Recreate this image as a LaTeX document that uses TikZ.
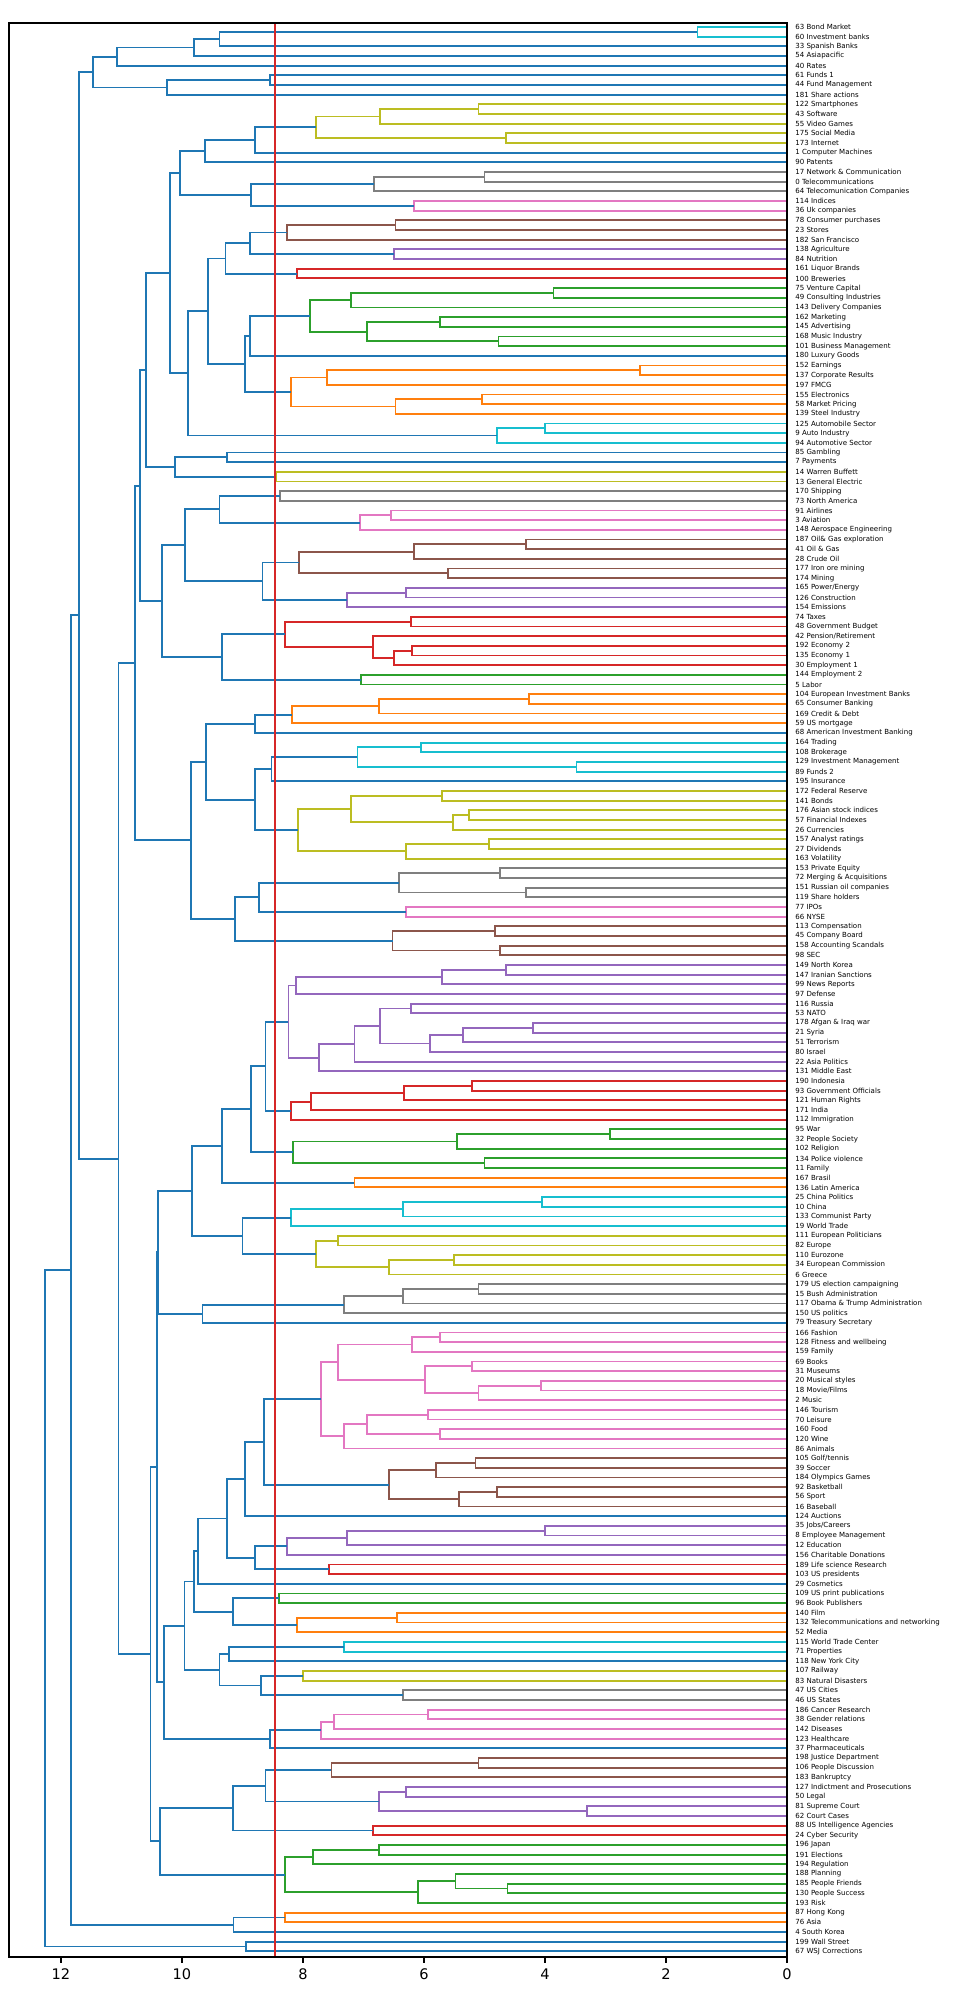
\documentclass[tikz,border=0pt]{standalone}
\usepackage{fontspec}
\setmainfont{DejaVu Sans}
\usetikzlibrary{calc}
\definecolor{C0}{HTML}{1F77B4}
\definecolor{C1}{HTML}{FF7F0E}
\definecolor{C2}{HTML}{2CA02C}
\definecolor{C3}{HTML}{D62728}
\definecolor{C4}{HTML}{9467BD}
\definecolor{C5}{HTML}{8C564B}
\definecolor{C6}{HTML}{E377C2}
\definecolor{C7}{HTML}{7F7F7F}
\definecolor{C8}{HTML}{BCBD22}
\definecolor{C9}{HTML}{17BECF}
\newcommand\mg[5]{%
  \coordinate (tmp) at ($(#2)!0.5!(#3)$);
  \coordinate (hx) at ({787-60.5*#4},0);
  \coordinate (#1) at (hx |- tmp);
  \draw[link,#5] (#2) -| (#1) |- (#3);
}
\tikzset{link/.style={line width=1.05pt},
  lab/.style={anchor=west,inner sep=0pt,font=\fontsize{4}{4.5}\selectfont},
  tick/.style={anchor=north,inner sep=0pt,font=\fontsize{8.3}{9}\selectfont}}
\begin{document}
\begin{tikzpicture}[x=0.02cm,y=-0.02cm]
\useasboundingbox (0,0) rectangle (973,2000);
\fill[white] (0,0) rectangle (973,2000);
\foreach \i/\t in {0/63 Bond Market,1/60 Investment banks,2/33 Spanish Banks,3/54 Asiapacific,4/40 Rates,5/61 Funds 1,6/44 Fund Management,7/181 Share actions,8/122 Smartphones,9/43 Software,10/55 Video Games,11/175 Social Media,12/173 Internet,13/1 Computer Machines,14/90 Patents,15/17 Network \& Communication,16/0 Telecommunications,17/64 Telecomunication Companies,18/114 Indices,19/36 Uk companies,20/78 Consumer purchases,21/23 Stores,22/182 San Francisco,23/138 Agriculture,24/84 Nutrition,25/161 Liquor Brands,26/100 Breweries,27/75 Venture Capital,28/49 Consulting Industries,29/143 Delivery Companies,30/162 Marketing,31/145 Advertising,32/168 Music Industry,33/101 Business Management,34/180 Luxury Goods,35/152 Earnings,36/137 Corporate Results,37/197 FMCG,38/155 Electronics,39/58 Market Pricing,40/139 Steel Industry,41/125 Automobile Sector,42/9 Auto Industry,43/94 Automotive Sector,44/85 Gambling,45/7 Payments,46/14 Warren Buffett,47/13 General Electric,48/170 Shipping,49/73 North America,50/91 Airlines,51/3 Aviation,52/148 Aerospace Engineering,53/187 Oil\& Gas exploration,54/41 Oil \& Gas,55/28 Crude Oil,56/177 Iron ore mining,57/174 Mining,58/{165 Power/Energy},59/126 Construction,60/154 Emissions,61/74 Taxes,62/48 Government Budget,63/{42 Pension/Retirement},64/192 Economy 2,65/135 Economy 1,66/30 Employment 1,67/144 Employment 2,68/5 Labor,69/104 European Investment Banks,70/65 Consumer Banking,71/169 Credit \& Debt,72/59 US mortgage,73/68 American Investment Banking,74/164 Trading,75/108 Brokerage,76/129 Investment Management,77/89 Funds 2,78/195 Insurance,79/172 Federal Reserve,80/141 Bonds,81/176 Asian stock indices,82/57 Financial Indexes,83/26 Currencies,84/157 Analyst ratings,85/27 Dividends,86/163 Volatility,87/153 Private Equity,88/72 Merging \& Acquisitions,89/151 Russian oil companies,90/119 Share holders,91/77 IPOs,92/66 NYSE,93/113 Compensation,94/45 Company Board,95/158 Accounting Scandals,96/98 SEC,97/149 North Korea,98/147 Iranian Sanctions,99/99 News Reports,100/97 Defense,101/116 Russia,102/53 NATO,103/178 Afgan \& Iraq war,104/21 Syria,105/51 Terrorism,106/80 Israel,107/22 Asia Politics,108/131 Middle East,109/190 Indonesia,110/93 Government Officials,111/121 Human Rights,112/171 India,113/112 Immigration,114/95 War,115/32 People Society,116/102 Religion,117/134 Police violence,118/11 Family,119/167 Brasil,120/136 Latin America,121/25 China Politics,122/10 China,123/133 Communist Party,124/19 World Trade,125/111 European Politicians,126/82 Europe,127/110 Eurozone,128/34 European Commission,129/6 Greece,130/179 US election campaigning,131/15 Bush Administration,132/117 Obama \& Trump Administration,133/150 US politics,134/79 Treasury Secretary,135/166 Fashion,136/128 Fitness and wellbeing,137/159 Family,138/69 Books,139/31 Museums,140/20 Musical styles,141/{18 Movie/Films},142/2 Music,143/146 Tourism,144/70 Leisure,145/160 Food,146/120 Wine,147/86 Animals,148/{105 Golf/tennis},149/39 Soccer,150/184 Olympics Games,151/92 Basketball,152/56 Sport,153/16 Baseball,154/124 Auctions,155/{35 Jobs/Careers},156/8 Employee Management,157/12 Education,158/156 Charitable Donations,159/189 Life science Research,160/103 US presidents,161/29 Cosmetics,162/109 US print publications,163/96 Book Publishers,164/140 Film,165/132 Telecommunications and networking,166/52 Media,167/115 World Trade Center,168/71 Properties,169/118 New York City,170/107 Railway,171/83 Natural Disasters,172/47 US Cities,173/46 US States,174/186 Cancer Research,175/38 Gender relations,176/142 Diseases,177/123 Healthcare,178/37 Pharmaceuticals,179/198 Justice Department,180/106 People Discussion,181/183 Bankruptcy,182/127 Indictment and Prosecutions,183/50 Legal,184/81 Supreme Court,185/62 Court Cases,186/88 US Intelligence Agencies,187/24 Cyber Security,188/196 Japan,189/191 Elections,190/194 Regulation,191/188 Planning,192/185 People Friends,193/130 People Success,194/193 Risk,195/87 Hong Kong,196/76 Asia,197/4 South Korea,198/199 Wall Street,199/67 WSJ Corrections}{
  \coordinate (L\i) at (787,{27+9.67*\i});
  \node[lab] (T\i) at (795,{27+9.67*\i}) {\t};
}
% ---- top block
\mg{a1}{L0}{L1}{1.48}{C9}
\mg{a2}{a1}{L2}{9.38}{C0}
\mg{a3}{a2}{L3}{9.8}{C0}
\mg{a4}{a3}{L4}{11.07}{C0}
\mg{a5}{L5}{L6}{8.54}{C0}
\mg{a6}{a5}{L7}{10.25}{C0}
\mg{a7}{a4}{a6}{11.47}{C0}
% ---- B
\mg{b1}{L8}{L9}{5.1}{C8}
\mg{b2}{b1}{L10}{6.73}{C8}
\mg{b3}{L11}{L12}{4.64}{C8}
\mg{b4}{b2}{b3}{7.78}{C8}
\mg{b5}{b4}{L13}{8.8}{C0}
\mg{b6}{b5}{L14}{9.62}{C0}
\mg{b7}{L15}{L16}{5.0}{C7}
\mg{b8}{b7}{L17}{6.83}{C7}
\mg{b9}{L18}{L19}{6.16}{C6}
\mg{b10}{b8}{b9}{8.86}{C0}
\mg{b11}{b6}{b10}{10.04}{C0}
% ---- C
\mg{c1}{L20}{L21}{6.47}{C5}
\mg{c2}{c1}{L22}{8.27}{C5}
\mg{c3}{L23}{L24}{6.5}{C4}
\mg{c4}{c2}{c3}{8.88}{C0}
\mg{c5}{L25}{L26}{8.1}{C3}
\mg{c6}{c4}{c5}{9.28}{C0}
% ---- D
\mg{d1}{L27}{L28}{3.86}{C2}
\mg{d2}{d1}{L29}{7.2}{C2}
\mg{d3}{L30}{L31}{5.74}{C2}
\mg{d4}{L32}{L33}{4.77}{C2}
\mg{d5}{d3}{d4}{6.94}{C2}
\mg{d6}{d2}{d5}{7.89}{C2}
\mg{d7}{d6}{L34}{8.88}{C0}
\mg{d8}{L35}{L36}{2.43}{C1}
\mg{d9}{d8}{L37}{7.6}{C1}
\mg{d10}{L38}{L39}{5.04}{C1}
\mg{d11}{d10}{L40}{6.47}{C1}
\mg{d12}{d9}{d11}{8.2}{C1}
\mg{d13}{d7}{d12}{8.96}{C0}
\mg{cd}{c6}{d13}{9.57}{C0}
\mg{d14}{L41}{L42}{4.0}{C9}
\mg{d15}{d14}{L43}{4.8}{C9}
\mg{d16}{cd}{d15}{9.9}{C0}
% ---- F
\mg{f1}{L44}{L45}{9.26}{C0}
\mg{f2}{L46}{L47}{8.45}{C8}
\mg{f15}{f1}{f2}{10.12}{C0}
\mg{f3}{L48}{L49}{8.38}{C7}
\mg{f4}{L50}{L51}{6.54}{C6}
\mg{f5}{f4}{L52}{7.06}{C6}
\mg{f6}{f3}{f5}{9.38}{C0}
\mg{f7}{L53}{L54}{4.32}{C5}
\mg{f8}{f7}{L55}{6.16}{C5}
\mg{f9}{L56}{L57}{5.6}{C5}
\mg{f10}{f8}{f9}{8.06}{C5}
\mg{f11}{L58}{L59}{6.3}{C4}
\mg{f12}{f11}{L60}{7.27}{C4}
\mg{f13}{f10}{f12}{8.67}{C0}
\mg{f14}{f6}{f13}{9.95}{C0}
% ---- H
\mg{h1}{L61}{L62}{6.22}{C3}
\mg{h2}{L64}{L65}{6.2}{C3}
\mg{h3}{h2}{L66}{6.5}{C3}
\mg{h4}{L63}{h3}{6.85}{C3}
\mg{h5}{h1}{h4}{8.3}{C3}
\mg{h6}{L67}{L68}{7.04}{C2}
\mg{h7}{h5}{h6}{9.34}{C0}
\mg{h8}{f14}{h7}{10.33}{C0}
% ---- I finance
\mg{i1}{L69}{L70}{4.26}{C1}
\mg{i2}{i1}{L71}{6.75}{C1}
\mg{i3}{i2}{L72}{8.18}{C1}
\mg{i4}{i3}{L73}{8.8}{C0}
\mg{i5}{L74}{L75}{6.05}{C9}
\mg{i6}{L76}{L77}{3.48}{C9}
\mg{i7}{i5}{i6}{7.1}{C9}
\mg{i8}{i7}{L78}{8.52}{C0}
\mg{i9}{L79}{L80}{5.7}{C8}
\mg{i10}{L81}{L82}{5.25}{C8}
\mg{i11}{i10}{L83}{5.52}{C8}
\mg{i12}{i9}{i11}{7.2}{C8}
\mg{i13}{L84}{L85}{4.93}{C8}
\mg{i14}{i13}{L86}{6.3}{C8}
\mg{i15}{i12}{i14}{8.08}{C8}
\mg{i16}{i8}{i15}{8.8}{C0}
\mg{i17}{i4}{i16}{9.6}{C0}
\mg{i18}{L87}{L88}{4.75}{C7}
\mg{i19}{L89}{L90}{4.32}{C7}
\mg{i20}{i18}{i19}{6.41}{C7}
\mg{i21}{L91}{L92}{6.3}{C6}
\mg{i22}{i20}{i21}{8.73}{C0}
\mg{i23}{L93}{L94}{4.83}{C5}
\mg{i24}{L95}{L96}{4.75}{C5}
\mg{i25}{i23}{i24}{6.52}{C5}
\mg{i26}{i22}{i25}{9.13}{C0}
\mg{i27}{i17}{i26}{9.85}{C0}
% ---- J politics
\mg{j1}{L97}{L98}{4.64}{C4}
\mg{j2}{j1}{L99}{5.7}{C4}
\mg{j3}{j2}{L100}{8.12}{C4}
\mg{j4}{L101}{L102}{6.22}{C4}
\mg{j5}{L103}{L104}{4.2}{C4}
\mg{j6}{j5}{L105}{5.36}{C4}
\mg{j7}{j6}{L106}{5.9}{C4}
\mg{j8}{j4}{j7}{6.73}{C4}
\mg{j9}{j8}{L107}{7.15}{C4}
\mg{j10}{j9}{L108}{7.74}{C4}
\mg{j11}{j3}{j10}{8.24}{C4}
\mg{j12}{L109}{L110}{5.2}{C3}
\mg{j13}{j12}{L111}{6.33}{C3}
\mg{j14}{j13}{L112}{7.87}{C3}
\mg{j15}{j14}{L113}{8.2}{C3}
\mg{j16}{j11}{j15}{8.62}{C0}
\mg{j17}{L114}{L115}{2.93}{C2}
\mg{j18}{j17}{L116}{5.46}{C2}
\mg{j19}{L117}{L118}{5.0}{C2}
\mg{j20}{j18}{j19}{8.16}{C2}
\mg{j21}{j16}{j20}{8.86}{C0}
\mg{j22}{L119}{L120}{7.15}{C1}
\mg{j23}{j21}{j22}{9.34}{C0}
\mg{j24}{L121}{L122}{4.05}{C9}
\mg{j25}{j24}{L123}{6.35}{C9}
\mg{j26}{j25}{L124}{8.2}{C9}
\mg{j27}{L125}{L126}{7.42}{C8}
\mg{j28}{L127}{L128}{5.5}{C8}
\mg{j29}{j28}{L129}{6.58}{C8}
\mg{j30}{j27}{j29}{7.78}{C8}
\mg{j31}{j26}{j30}{9.0}{C0}
\mg{j32}{j23}{j31}{9.83}{C0}
\mg{j33}{L130}{L131}{5.1}{C7}
\mg{j34}{j33}{L132}{6.35}{C7}
\mg{j35}{j34}{L133}{7.32}{C7}
\mg{j36}{j35}{L134}{9.66}{C0}
\mg{j37}{j32}{j36}{10.4}{C0}
% ---- K culture
\mg{k1}{L135}{L136}{5.74}{C6}
\mg{k2}{k1}{L137}{6.2}{C6}
\mg{k3}{L138}{L139}{5.2}{C6}
\mg{k4}{L140}{L141}{4.07}{C6}
\mg{k5}{k4}{L142}{5.1}{C6}
\mg{k6}{k3}{k5}{5.98}{C6}
\mg{k7}{k2}{k6}{7.42}{C6}
\mg{k8}{L143}{L144}{5.93}{C6}
\mg{k9}{L145}{L146}{5.74}{C6}
\mg{k10}{k8}{k9}{6.94}{C6}
\mg{k11}{k10}{L147}{7.32}{C6}
\mg{k12}{k7}{k11}{7.7}{C6}
\mg{k13}{L148}{L149}{5.15}{C5}
\mg{k14}{k13}{L150}{5.8}{C5}
\mg{k15}{L151}{L152}{4.79}{C5}
\mg{k16}{k15}{L153}{5.42}{C5}
\mg{k17}{k14}{k16}{6.58}{C5}
\mg{k18}{k12}{k17}{8.65}{C0}
\mg{k19}{k18}{L154}{8.96}{C0}
\mg{k20}{L155}{L156}{4.0}{C4}
\mg{k21}{k20}{L157}{7.27}{C4}
\mg{k22}{k21}{L158}{8.27}{C4}
\mg{k23}{L159}{L160}{7.57}{C3}
\mg{k24}{k22}{k23}{8.8}{C0}
\mg{k25}{k19}{k24}{9.26}{C0}
\mg{k26}{k25}{L161}{9.74}{C0}
\mg{k27}{L162}{L163}{8.4}{C2}
\mg{k28}{L164}{L165}{6.45}{C1}
\mg{k29}{k28}{L166}{8.1}{C1}
\mg{k30}{k27}{k29}{9.16}{C0}
\mg{k31}{k26}{k30}{9.8}{C0}
\mg{k32}{L167}{L168}{7.32}{C9}
\mg{k33}{k32}{L169}{9.22}{C0}
\mg{k34}{L170}{L171}{8.0}{C8}
\mg{k35}{L172}{L173}{6.35}{C7}
\mg{k36}{k34}{k35}{8.7}{C0}
\mg{k37}{k33}{k36}{9.38}{C0}
\mg{k38}{k31}{k37}{9.96}{C0}
\mg{k39}{L174}{L175}{5.93}{C6}
\mg{k40}{k39}{L176}{7.49}{C6}
\mg{k41}{k40}{L177}{7.7}{C6}
\mg{k42}{k41}{L178}{8.54}{C0}
\mg{k43}{k38}{k42}{10.3}{C0}
% ---- L legal
\mg{l1}{L179}{L180}{5.1}{C5}
\mg{l2}{l1}{L181}{7.53}{C5}
\mg{l3}{L182}{L183}{6.3}{C4}
\mg{l4}{L184}{L185}{3.31}{C4}
\mg{l5}{l3}{l4}{6.75}{C4}
\mg{l6}{l2}{l5}{8.62}{C0}
\mg{l7}{L186}{L187}{6.85}{C3}
\mg{l8}{l6}{l7}{9.16}{C0}
\mg{l9}{L188}{L189}{6.75}{C2}
\mg{l10}{l9}{L190}{7.84}{C2}
\mg{l11}{L192}{L193}{4.62}{C2}
\mg{l12}{L191}{l11}{5.48}{C2}
\mg{l13}{l12}{L194}{6.1}{C2}
\mg{l14}{l10}{l13}{8.3}{C2}
\mg{l15}{l8}{l14}{10.36}{C0}
% ---- M
\mg{m1}{L195}{L196}{8.3}{C1}
\mg{m2}{m1}{L197}{9.15}{C0}
\mg{m3}{L198}{L199}{8.94}{C0}
% ---- high level
\mg{t1}{b11}{d16}{10.2}{C0}
\mg{t2}{t1}{f15}{10.6}{C0}
\mg{t3}{t2}{h8}{10.7}{C0}
\mg{u1}{t3}{i27}{10.78}{C0}
\mg{w1}{j37}{k43}{10.42}{C0}
\mg{w2}{w1}{l15}{10.52}{C0}
\mg{u3}{u1}{w2}{11.05}{C0}
\mg{u4}{a7}{u3}{11.7}{C0}
\mg{u5}{u4}{m2}{11.83}{C0}
\mg{root}{u5}{m3}{12.27}{C0}
% ---- threshold, frame, axis
\draw[C3,line width=1.05pt] ({787-60.5*8.46},23) -- ({787-60.5*8.46},1957);
\draw[line width=0.6pt] (9,23) rectangle (787,1957);
\foreach \v in {0,2,4,6,8,10,12}{
  \draw[line width=0.6pt] ({787-60.5*\v},1957) -- ({787-60.5*\v},1963);
  \node[tick] (X\v) at ({787-60.5*\v},1968) {\v};
}
\end{tikzpicture}
\end{document}
